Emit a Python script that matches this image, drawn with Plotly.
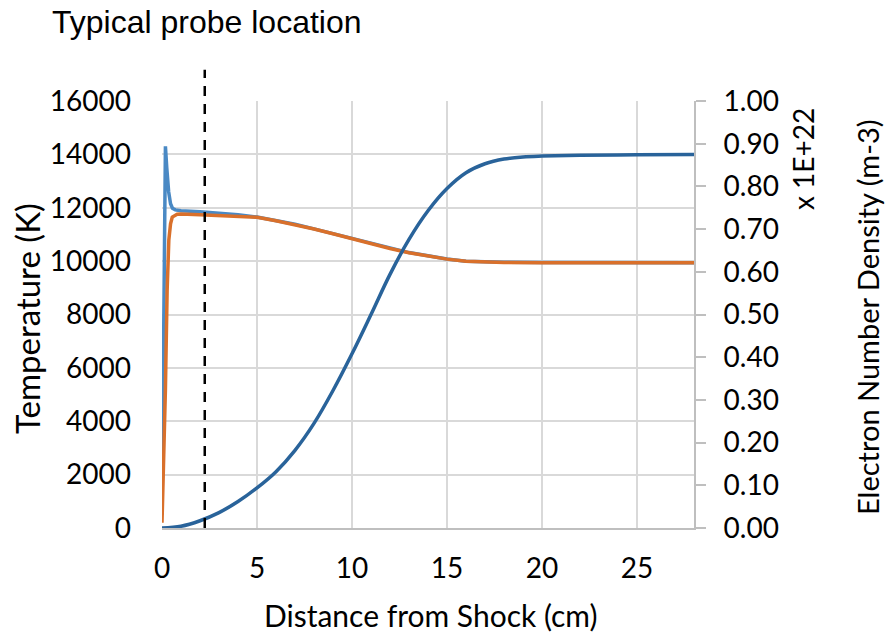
import plotly.graph_objects as go

# ---- data ----
x_temp = [0, 0.05, 0.1, 0.15, 0.18, 0.25, 0.35, 0.45, 0.55, 0.7, 1, 2, 3, 4, 5, 6, 7, 8,
          9, 10, 11, 12, 13, 14, 15, 16, 17, 18, 20, 25, 28]
t_heavy = [500, 4000, 9000, 13500, 14300, 13500, 12600, 12150, 11980, 11920, 11890, 11850,
           11800, 11740, 11650, 11520, 11380, 11210, 11030, 10840, 10650, 10480, 10320,
           10200, 10080, 10000, 9970, 9955, 9945, 9940, 9940]

x_te = [0, 0.05, 0.1, 0.18, 0.27, 0.36, 0.45, 0.54, 0.8, 1, 2, 3, 4, 5, 6, 7, 8,
        9, 10, 11, 12, 13, 14, 15, 16, 17, 18, 20, 25, 28]
t_electron = [200, 1500, 3000, 5200, 8900, 10800, 11400, 11650, 11760, 11770, 11740, 11710,
              11690, 11640, 11515, 11375, 11205, 11025, 10835, 10645, 10475, 10315, 10195,
              10075, 9995, 9965, 9950, 9940, 9935, 9935]

x_ne = [0, 1, 2, 3, 4, 5, 6, 7, 8, 9, 10, 11, 12, 13, 14, 15, 16, 17, 18, 19, 20, 22, 25, 28]
n_e = [0, 0.004, 0.017, 0.036, 0.062, 0.094, 0.132, 0.182, 0.245, 0.322, 0.408, 0.500,
       0.594, 0.676, 0.743, 0.795, 0.832, 0.853, 0.864, 0.869, 0.871, 0.873, 0.874, 0.875]

probe_x = 2.25

title_text = "Typical probe location"
x_title = "Distance from Shock (cm)"
y_title = "Temperature (K)"
y2_title = "Electron Number Density (m-3)"
y2_scale = "x 1E+22"

FONT = "Lato, 'Noto Sans', sans-serif"
GRID = "#d9d9d9"
AXIS = "#bfbfbf"

fig = go.Figure()
fig.add_trace(go.Scatter(x=x_temp, y=t_heavy, mode="lines",
                         line=dict(color="#4a89c4", width=3.5), showlegend=False))
fig.add_trace(go.Scatter(x=x_te, y=t_electron, mode="lines",
                         line=dict(color="#d9702b", width=3.5), showlegend=False))
fig.add_trace(go.Scatter(x=x_ne, y=n_e, mode="lines", yaxis="y2",
                         line=dict(color="#29639a", width=3.5, shape="spline"),
                         showlegend=False))

fig.add_shape(type="line", xref="x", yref="paper", x0=probe_x, x1=probe_x,
              y0=0, y1=1.073, line=dict(color="black", width=2.5, dash="10px,8px"))

# full-window figure (page body margin is reset below)
W, H = 887, 633
PL, PR, PT, PB = 162, 694, 101, 528          # plot area in pixels
L, R, T, B = PL, W - PR, PT, H - PB
pw, ph = PR - PL, PB - PT


def px(xs):
    return (xs - PL) / pw


def py(ys):
    return (PB - ys) / ph


fig.update_layout(
    width=W, height=H,
    margin=dict(l=L, r=R, t=T, b=B),
    paper_bgcolor="white", plot_bgcolor="white",
    font=dict(family=FONT, size=28, color="black"),
    title=dict(text=title_text, xref="container", yref="container",
               x=52 / W, xanchor="left", y=1 - 22 / H, yanchor="middle",
               font=dict(family="'Liberation Sans', Arial, sans-serif", size=32, color="black")),
    xaxis=dict(range=[0, 28], dtick=5, tick0=0, showgrid=True, gridcolor=GRID, gridwidth=2,
               showline=True, linecolor=AXIS, linewidth=2, ticks="", zeroline=False,
               ticklabelstandoff=14, tickfont=dict(size=28)),
    yaxis=dict(range=[0, 16000], dtick=2000, tickformat="d", showgrid=True, gridcolor=GRID,
               gridwidth=2, showline=False, zeroline=False, ticks="", ticklabelstandoff=30,
               tickfont=dict(size=28)),
    yaxis2=dict(range=[0, 1], dtick=0.1, tickformat=".2f", overlaying="y", side="right",
                showgrid=False, zeroline=False, showline=True, linecolor=AXIS, linewidth=2,
                ticks="outside", ticklen=10, tickwidth=2, tickcolor=AXIS,
                ticklabelstandoff=12, tickfont=dict(size=28)),
    annotations=[
        dict(text=x_title, xref="paper", yref="paper", x=px(430), y=py(615),
             showarrow=False, xanchor="center", yanchor="middle", font=dict(size=30)),
        dict(text=y_title, xref="paper", yref="paper", x=px(27), y=py(318),
             showarrow=False, xanchor="center", yanchor="middle", textangle=-90,
             font=dict(size=33)),
        dict(text=y2_title, xref="paper", yref="paper", x=px(867), y=py(318),
             showarrow=False, xanchor="center", yanchor="middle", textangle=-90,
             font=dict(size=29)),
        dict(text=y2_scale, xref="paper", yref="paper", x=px(803), y=py(159),
             showarrow=False, xanchor="center", yanchor="middle", textangle=-90,
             font=dict(size=28)),
    ],
)

fig.write_html("out.html", config={"displayModeBar": False},
               post_script="document.body.style.margin='0';document.body.style.overflow='hidden';")
